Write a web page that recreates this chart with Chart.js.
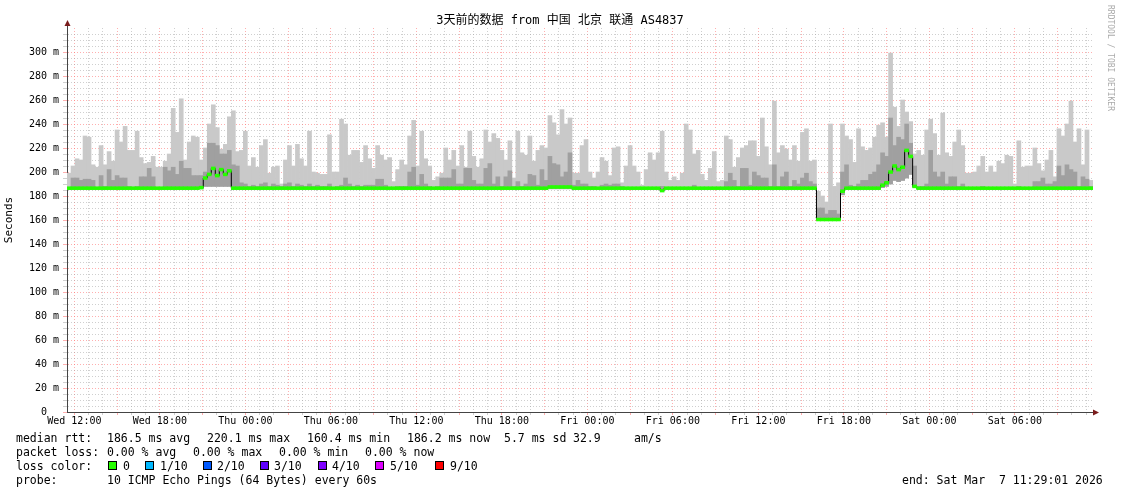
<!DOCTYPE html>
<html>
<head>
<meta charset="utf-8">
<script src="https://cdn.jsdelivr.net/npm/chart.js@4.4.1/dist/chart.umd.min.js"></script>
<style>
body { margin: 0; background: #fff; }
#wrap { position: relative; width: 1121px; height: 494px; }
.t { position: absolute; font: 11.5px "DejaVu Sans Mono", monospace; white-space: pre; line-height: 14px; color: #000; }
.b { position: absolute; top: 461px; width: 7px; height: 7px; border: 1px solid #000; }
</style>
</head>
<body>
<div id="wrap">
<canvas id="myChart" width="1121" height="494"></canvas>
<div class="t" style="left:16px;top:431px">median rtt:</div>
<div class="t" style="left:107px;top:431px">186.5 ms avg</div>
<div class="t" style="left:207px;top:431px">220.1 ms max</div>
<div class="t" style="left:307px;top:431px">160.4 ms min</div>
<div class="t" style="left:407px;top:431px">186.2 ms now</div>
<div class="t" style="left:504px;top:431px">5.7 ms sd</div>
<div class="t" style="left:573px;top:431px">32.9</div>
<div class="t" style="left:634px;top:431px">am/s</div>
<div class="t" style="left:16px;top:445px">packet loss:</div>
<div class="t" style="left:107px;top:445px">0.00 % avg</div>
<div class="t" style="left:193px;top:445px">0.00 % max</div>
<div class="t" style="left:279px;top:445px">0.00 % min</div>
<div class="t" style="left:365px;top:445px">0.00 % now</div>
<div class="t" style="left:16px;top:459px">loss color:</div>
<div class="b" style="left:108px;background:#26ff00"></div><div class="t" style="left:123px;top:459px">0</div>
<div class="b" style="left:145px;background:#00b8ff"></div><div class="t" style="left:160px;top:459px">1/10</div>
<div class="b" style="left:203px;background:#0059ff"></div><div class="t" style="left:217px;top:459px">2/10</div>
<div class="b" style="left:260px;background:#5e00ff"></div><div class="t" style="left:274px;top:459px">3/10</div>
<div class="b" style="left:318px;background:#7e00ff"></div><div class="t" style="left:332px;top:459px">4/10</div>
<div class="b" style="left:375px;background:#dd00ff"></div><div class="t" style="left:390px;top:459px">5/10</div>
<div class="b" style="left:435px;background:#ff0000"></div><div class="t" style="left:450px;top:459px">9/10</div>
<div class="t" style="left:16px;top:473px">probe:</div>
<div class="t" style="left:107px;top:473px">10 ICMP Echo Pings (64 Bytes) every 60s</div>
<div class="t" style="left:902px;top:473px">end: Sat Mar  7 11:29:01 2026</div>
</div>
<script>
var title = '3天前的数据 from 中国 北京 联通 AS4837';
var xLabels = ['Wed 12:00', 'Wed 18:00', 'Thu 00:00', 'Thu 06:00', 'Thu 12:00', 'Thu 18:00',
               'Fri 00:00', 'Fri 06:00', 'Fri 12:00', 'Fri 18:00', 'Sat 00:00', 'Sat 06:00'];
var yLabels = ['0', '20 m', '40 m', '60 m', '80 m', '100 m', '120 m', '140 m', '160 m',
               '180 m', '200 m', '220 m', '240 m', '260 m', '280 m', '300 m'];

// 256 samples over the 72 hours ending Sat 11:29:01 (ms)
var smokeMax = [
 199,205,211,210,230,229,206,204,222,206,217,209,235,225,238,218,
 218,234,212,207,208,213,204,204,209,215,253,233,261,210,225,230,
 229,210,220,240,256,237,219,223,246,251,217,218,234,205,212,204,
 222,227,199,204,205,190,210,222,205,223,211,205,234,200,199,198,
 198,231,200,200,244,240,214,218,218,208,222,211,203,222,214,210,
 212,192,202,210,206,230,243,205,234,211,205,193,196,199,220,210,
 218,205,222,204,234,213,204,211,235,225,232,228,218,210,226,195,
 234,216,214,230,209,218,222,220,247,241,231,252,240,245,199,199,
 222,227,200,195,200,212,209,197,220,221,191,205,222,205,200,189,
 202,216,210,216,234,200,193,196,193,199,240,235,215,218,198,193,
 203,217,192,193,230,227,204,212,220,222,226,226,213,245,221,206,
 259,216,222,219,210,222,209,233,236,209,210,184,180,175,240,188,
 191,240,230,227,208,236,221,218,220,229,239,241,229,299,254,238,
 260,250,242,215,218,214,235,244,232,214,249,216,213,225,235,222,
 199,199,200,205,213,200,205,200,209,207,214,213,190,226,204,205,
 205,220,207,201,210,218,196,236,230,240,259,225,236,206,235,193
];
var smokeMid = [
 186,195,195,193,194,194,193,186,197,188,202,193,197,195,195,188,
 187,188,196,196,203,196,187,187,204,201,204,198,209,203,203,197,
 197,197,200,224,224,222,215,215,218,206,205,191,190,188,189,188,
 190,191,188,190,189,188,190,191,188,190,189,188,190,188,189,188,
 188,190,187,188,189,195,190,188,189,188,189,189,189,194,194,189,
 187,187,188,188,188,200,204,189,198,190,188,187,188,195,195,195,
 202,190,190,203,203,193,190,190,203,207,190,196,188,196,201,188,
 192,188,190,198,197,189,202,193,213,207,206,196,200,216,189,193,
 190,190,188,188,187,189,190,189,190,190,188,187,187,187,187,187,
 187,187,187,187,188,187,187,187,187,187,187,187,189,187,187,187,
 187,187,187,187,192,199,193,188,203,203,189,200,197,195,195,188,
 206,188,196,200,188,193,190,195,199,192,190,170,170,165,168,168,
 165,200,206,189,188,190,193,193,198,200,206,216,213,245,222,229,
 227,240,224,205,188,188,190,218,200,196,200,190,196,196,188,190,
 187,187,187,187,188,187,187,187,187,187,187,187,187,188,187,187,
 187,192,192,195,190,190,192,205,197,206,202,200,188,196,194,188
];
var smokeMin = [
 186,186,186,186,186,186,186,186,186,186,186,186,186,186,186,186,
 186,186,186,186,186,186,186,186,186,186,186,186,186,186,186,186,
 186,186,188,188,188,188,188,188,188,186,186,186,186,186,186,186,
 186,186,186,186,186,186,186,186,186,186,186,186,186,186,186,186,
 186,186,186,186,186,186,186,186,186,186,186,186,186,186,186,186,
 186,186,186,186,186,186,186,186,186,186,186,186,186,186,186,186,
 186,186,186,186,186,186,186,186,186,186,186,186,186,186,186,186,
 186,186,186,186,186,186,186,186,186,186,186,186,186,186,186,186,
 186,186,186,186,186,186,186,186,186,186,186,186,186,186,186,186,
 186,186,186,186,186,186,186,186,186,186,186,186,186,186,186,186,
 186,186,186,186,186,186,186,186,186,186,186,186,186,186,186,186,
 186,186,186,186,186,186,186,186,186,186,186,160,160,160,160,160,
 160,181,186,186,186,186,186,186,186,186,186,187,188,190,193,192,
 193,195,198,187,186,186,186,186,186,186,186,186,186,186,186,186,
 186,186,186,186,186,186,186,186,186,186,186,186,186,186,186,186,
 186,186,186,186,186,186,186,186,186,186,186,186,186,186,186,186
];
var median = [
 186.5,186.5,186.5,186.5,186.5,186.5,186.5,186.5,186.5,186.5,186.5,186.5,186.5,186.5,186.5,186.5,
 186.5,186.5,186.5,186.5,186.5,186.5,186.5,186.5,186.5,186.5,186.5,186.5,186.5,186.5,186.5,186.5,
 186.5,187,195,198,203,197,202,198,201,186.5,186.5,186.5,186.5,186.5,186.5,186.5,
 186.5,186.5,186.5,186.5,186.5,186.5,186.5,186.5,186.5,186.5,186.5,186.5,186.5,186.5,186.5,186.5,
 186.5,186.5,186.5,186.5,186.5,186.5,186.5,186.5,186.5,186.5,186.5,186.5,186.5,186.5,186.5,186.5,
 186.5,186.5,186.5,186.5,186.5,186.5,186.5,186.5,186.5,186.5,186.5,186.5,186.5,186.5,186.5,186.5,
 186.5,186.5,186.5,186.5,186.5,186.5,186.5,186.5,186.5,186.5,186.5,186.5,186.5,186.5,186.5,186.5,
 186.5,186.5,186.5,186.5,186.5,186.5,186.5,186.5,187.5,187.5,187.5,187.5,187.5,187.5,186.5,186.5,
 186.5,186.5,186.5,186.5,186.5,186.5,186.5,186.5,186.5,186.5,186.5,186.5,186.5,186.5,186.5,186.5,
 186.5,186.5,186.5,186.5,184.5,186.5,186.5,186.5,186.5,186.5,186.5,186.5,186.5,186.5,186.5,186.5,
 186.5,186.5,186.5,186.5,186.5,186.5,186.5,186.5,186.5,186.5,186.5,186.5,186.5,186.5,186.5,186.5,
 186.5,186.5,186.5,186.5,186.5,186.5,186.5,186.5,186.5,186.5,186.5,160.4,160.4,160.4,160.4,160.4,
 160.4,184,186.5,186.5,186.5,186.5,186.5,186.5,186.5,186.5,186.5,189,191,200,205,202,
 204,218,213,188,186.5,186.5,186.5,186.5,186.5,186.5,186.5,186.5,186.5,186.5,186.5,186.5,
 186.5,186.5,186.5,186.5,186.5,186.5,186.5,186.5,186.5,186.5,186.5,186.5,186.5,186.5,186.5,186.5,
 186.5,186.5,186.5,186.5,186.5,186.5,186.5,186.5,186.5,186.5,186.5,186.5,186.5,186.5,186.5,186.5
];

var hours = 72;
var step = hours / median.length;
var firstTick = (30 * 60 + 59) / 3600; // Wed 12:00 after a start at 11:29:01

var lightData = [], darkData = [], greenData = [], lineData = [];
median.forEach(function (m, i) {
    var x = (i + 0.5) * step;
    lightData.push({x: x, y: [smokeMin[i], smokeMax[i]]});
    darkData.push({x: x, y: [smokeMin[i], smokeMid[i]]});
    greenData.push({x: x, y: [m - 1.2, m + 1.2]});
    lineData.push({x: x, y: m});
});

var hourTicks = [];
for (var h = firstTick; h < hours; h += 1) hourTicks.push({value: h});
var msTicks = [];
for (var v = 0; v < 320; v += 5) msTicks.push({value: v});

var red = 'rgba(255,110,110,0.55)';
var grey = 'rgba(160,160,160,0.5)';
var mono = '"DejaVu Sans Mono", monospace';

var deco = {
    id: 'deco',
    afterDraw: function (chart) {
        var ctx = chart.ctx, a = chart.chartArea;
        ctx.save();
        ctx.strokeStyle = '#444';
        ctx.lineWidth = 1;
        ctx.beginPath();
        ctx.moveTo(a.left + 0.5, a.top);
        ctx.lineTo(a.left + 0.5, a.top - 5);
        ctx.moveTo(a.right, a.bottom + 0.5);
        ctx.lineTo(a.right + 3, a.bottom + 0.5);
        ctx.stroke();
        ctx.fillStyle = '#7a1c1c';
        ctx.beginPath();
        ctx.moveTo(a.left + 0.5, a.top - 8);
        ctx.lineTo(a.left - 2.5, a.top - 2);
        ctx.lineTo(a.left + 3.5, a.top - 2);
        ctx.fill();
        ctx.beginPath();
        ctx.moveTo(a.right + 6, a.bottom + 0.5);
        ctx.lineTo(a.right, a.bottom - 2.5);
        ctx.lineTo(a.right, a.bottom + 3.5);
        ctx.fill();

        ctx.fillStyle = '#000';
        ctx.font = '12px "DejaVu Sans Mono", "Noto Sans CJK SC", monospace';
        ctx.textAlign = 'center';
        ctx.textBaseline = 'middle';
        ctx.fillText(title, 560, 21);

        ctx.translate(1110, 5);
        ctx.rotate(Math.PI / 2);
        ctx.fillStyle = '#aaaaaa';
        ctx.font = '8px ' + mono;
        ctx.textAlign = 'left';
        ctx.fillText('RRDTOOL / TOBI OETIKER', 0, 0);
        ctx.restore();
    }
};

var ctx = document.getElementById('myChart').getContext('2d');
var chart = new Chart(ctx, {
    type: 'bar',
    data: {
        datasets: [{
            type: 'bar', data: lightData, backgroundColor: '#c9c9c9', order: 4,
            grouped: false, barPercentage: 1, categoryPercentage: 1
        }, {
            type: 'bar', data: darkData, backgroundColor: '#a0a0a0', order: 3,
            grouped: false, barPercentage: 1, categoryPercentage: 1
        }, {
            type: 'line', data: lineData, borderColor: '#000', borderWidth: 1,
            stepped: 'middle', pointRadius: 0, order: 2
        }, {
            type: 'bar', data: greenData, backgroundColor: '#26ff00', order: 1,
            grouped: false, barPercentage: 1, categoryPercentage: 1
        }]
    },
    options: {
        responsive: false,
        animation: false,
        devicePixelRatio: 1,
        layout: {padding: {top: 28, right: 28, left: 0, bottom: 0}},
        plugins: {legend: {display: false}, tooltip: {enabled: false}, title: {display: false}},
        scales: {
            x: {
                type: 'linear', min: 0, max: hours, offset: false, z: 1,
                afterBuildTicks: function (s) { s.ticks = hourTicks.slice(); },
                afterFit: function (s) { s.height = 82; },
                grid: {
                    offset: false, tickLength: 3, tickBorderDash: [],
                    color: function (c) { return c.index % 3 === 0 ? red : grey; }
                },
                border: {color: '#444', dash: [1, 2]},
                ticks: {
                    autoSkip: false, maxRotation: 0, padding: 0, color: '#000',
                    font: {family: mono, size: 10},
                    callback: function (v, i) { return i % 6 === 0 ? xLabels[i / 6] : ''; }
                }
            },
            y: {
                min: 0, max: 320, z: 1,
                afterBuildTicks: function (s) { s.ticks = msTicks.slice(); },
                afterFit: function (s) { s.width = 67; },
                grid: {
                    tickLength: 4, tickBorderDash: [],
                    color: function (c) { return c.index % 4 === 0 ? red : grey; }
                },
                border: {color: '#444', dash: [1, 2]},
                ticks: {
                    autoSkip: false, padding: 4, color: '#000', font: {family: mono, size: 10},
                    callback: function (v, i) {
                        if (i % 4) return '';
                        var s = yLabels[i / 4];
                        return s.indexOf('m') < 0 ? s + '  ' : s;
                    }
                },
                title: {display: true, text: 'Seconds', color: '#000', font: {family: mono, size: 11}, padding: {top: 3, bottom: 0}}
            }
        }
    },
    plugins: [deco]
});
</script>
</body>
</html>
